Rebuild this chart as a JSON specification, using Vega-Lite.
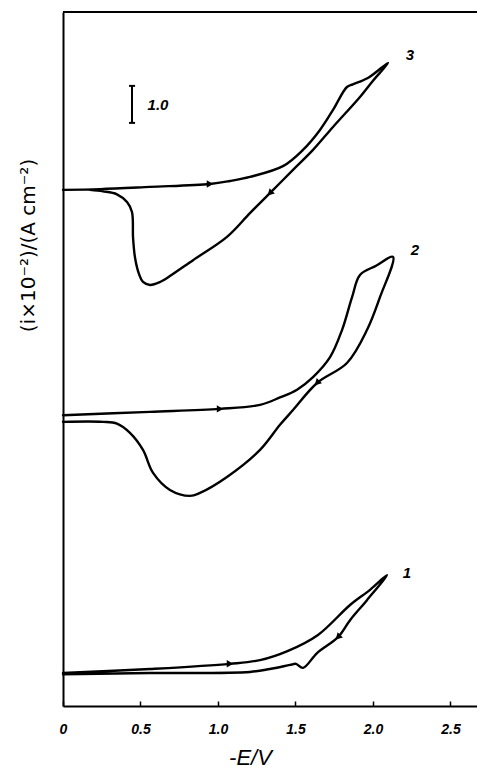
{
  "$schema": "https://vega.github.io/schema/vega-lite/v6.json",
  "width": 414,
  "height": 694,
  "autosize": {"type": "none"},
  "padding": {"left": 63, "top": 12, "right": 0, "bottom": 65},
  "background": "white",
  "config": {"view": {"stroke": null}, "font": "Liberation Sans"},
  "datasets": {
    "curves": [
      {"curve": "3", "seq": 1, "E": 0, "I": 13.95},
      {"curve": "3", "seq": 2, "E": 0.239, "I": 13.97},
      {"curve": "3", "seq": 3, "E": 0.561, "I": 14.03},
      {"curve": "3", "seq": 4, "E": 0.948, "I": 14.11},
      {"curve": "3", "seq": 5, "E": 1.077, "I": 14.19},
      {"curve": "3", "seq": 6, "E": 1.206, "I": 14.3},
      {"curve": "3", "seq": 7, "E": 1.419, "I": 14.59},
      {"curve": "3", "seq": 8, "E": 1.548, "I": 15.03},
      {"curve": "3", "seq": 9, "E": 1.658, "I": 15.57},
      {"curve": "3", "seq": 10, "E": 1.742, "I": 16.11},
      {"curve": "3", "seq": 11, "E": 1.832, "I": 16.73},
      {"curve": "3", "seq": 12, "E": 1.87, "I": 16.8},
      {"curve": "3", "seq": 13, "E": 1.97, "I": 16.98},
      {"curve": "3", "seq": 14, "E": 2.097, "I": 17.38},
      {"curve": "3", "seq": 15, "E": 2.0, "I": 16.9},
      {"curve": "3", "seq": 16, "E": 1.916, "I": 16.46},
      {"curve": "3", "seq": 17, "E": 1.742, "I": 15.65},
      {"curve": "3", "seq": 18, "E": 1.613, "I": 15.03},
      {"curve": "3", "seq": 19, "E": 1.484, "I": 14.49},
      {"curve": "3", "seq": 20, "E": 1.335, "I": 13.86},
      {"curve": "3", "seq": 21, "E": 1.206, "I": 13.32},
      {"curve": "3", "seq": 22, "E": 1.058, "I": 12.68},
      {"curve": "3", "seq": 23, "E": 0.839, "I": 12.05},
      {"curve": "3", "seq": 24, "E": 0.69, "I": 11.62},
      {"curve": "3", "seq": 25, "E": 0.626, "I": 11.46},
      {"curve": "3", "seq": 26, "E": 0.561, "I": 11.38},
      {"curve": "3", "seq": 27, "E": 0.516, "I": 11.46},
      {"curve": "3", "seq": 28, "E": 0.49, "I": 11.68},
      {"curve": "3", "seq": 29, "E": 0.465, "I": 12.11},
      {"curve": "3", "seq": 30, "E": 0.452, "I": 12.65},
      {"curve": "3", "seq": 31, "E": 0.445, "I": 13.35},
      {"curve": "3", "seq": 32, "E": 0.413, "I": 13.62},
      {"curve": "3", "seq": 33, "E": 0.348, "I": 13.83},
      {"curve": "3", "seq": 34, "E": 0.258, "I": 13.91},
      {"curve": "3", "seq": 35, "E": 0.174, "I": 13.95},
      {"curve": "2", "seq": 1, "E": 0, "I": 7.86},
      {"curve": "2", "seq": 2, "E": 0.561, "I": 7.95},
      {"curve": "2", "seq": 3, "E": 1.013, "I": 8.03},
      {"curve": "2", "seq": 4, "E": 1.271, "I": 8.14},
      {"curve": "2", "seq": 5, "E": 1.4, "I": 8.34},
      {"curve": "2", "seq": 6, "E": 1.51, "I": 8.55},
      {"curve": "2", "seq": 7, "E": 1.613, "I": 8.89},
      {"curve": "2", "seq": 8, "E": 1.723, "I": 9.43},
      {"curve": "2", "seq": 9, "E": 1.8, "I": 10.16},
      {"curve": "2", "seq": 10, "E": 1.865, "I": 11.05},
      {"curve": "2", "seq": 11, "E": 1.916, "I": 11.65},
      {"curve": "2", "seq": 12, "E": 2.02, "I": 11.9},
      {"curve": "2", "seq": 13, "E": 2.129, "I": 12.14},
      {"curve": "2", "seq": 14, "E": 2.045, "I": 11.05},
      {"curve": "2", "seq": 15, "E": 1.961, "I": 10.16},
      {"curve": "2", "seq": 16, "E": 1.832, "I": 9.27},
      {"curve": "2", "seq": 17, "E": 1.639, "I": 8.73},
      {"curve": "2", "seq": 18, "E": 1.484, "I": 8.0},
      {"curve": "2", "seq": 19, "E": 1.4, "I": 7.6},
      {"curve": "2", "seq": 20, "E": 1.271, "I": 6.92},
      {"curve": "2", "seq": 21, "E": 1.058, "I": 6.19},
      {"curve": "2", "seq": 22, "E": 0.884, "I": 5.76},
      {"curve": "2", "seq": 23, "E": 0.819, "I": 5.68},
      {"curve": "2", "seq": 24, "E": 0.69, "I": 5.84},
      {"curve": "2", "seq": 25, "E": 0.581, "I": 6.3},
      {"curve": "2", "seq": 26, "E": 0.516, "I": 6.92},
      {"curve": "2", "seq": 27, "E": 0.432, "I": 7.38},
      {"curve": "2", "seq": 28, "E": 0.348, "I": 7.63},
      {"curve": "2", "seq": 29, "E": 0.258, "I": 7.68},
      {"curve": "2", "seq": 30, "E": 0, "I": 7.68},
      {"curve": "1", "seq": 1, "E": 0, "I": 0.89},
      {"curve": "1", "seq": 2, "E": 0.561, "I": 1.0},
      {"curve": "1", "seq": 3, "E": 1.077, "I": 1.14},
      {"curve": "1", "seq": 4, "E": 1.271, "I": 1.24},
      {"curve": "1", "seq": 5, "E": 1.452, "I": 1.49},
      {"curve": "1", "seq": 6, "E": 1.645, "I": 1.92},
      {"curve": "1", "seq": 7, "E": 1.852, "I": 2.73},
      {"curve": "1", "seq": 8, "E": 1.981, "I": 3.14},
      {"curve": "1", "seq": 9, "E": 2.09, "I": 3.54},
      {"curve": "1", "seq": 10, "E": 1.961, "I": 2.86},
      {"curve": "1", "seq": 11, "E": 1.852, "I": 2.32},
      {"curve": "1", "seq": 12, "E": 1.774, "I": 1.86},
      {"curve": "1", "seq": 13, "E": 1.639, "I": 1.43},
      {"curve": "1", "seq": 14, "E": 1.548, "I": 1.03},
      {"curve": "1", "seq": 15, "E": 1.503, "I": 1.14},
      {"curve": "1", "seq": 16, "E": 1.465, "I": 1.11},
      {"curve": "1", "seq": 17, "E": 1.335, "I": 1.0},
      {"curve": "1", "seq": 18, "E": 1.206, "I": 0.92},
      {"curve": "1", "seq": 19, "E": 0.561, "I": 0.89},
      {"curve": "1", "seq": 20, "E": 0, "I": 0.86}
    ],
    "arrowsFwd": [
      {"curve": "3", "E": 0.948, "I": 14.11},
      {"curve": "2", "E": 1.013, "I": 8.03},
      {"curve": "1", "E": 1.077, "I": 1.14}
    ],
    "arrowsRev": [
      {"curve": "3", "E": 1.335, "I": 13.86},
      {"curve": "2", "E": 1.639, "I": 8.73},
      {"curve": "1", "E": 1.774, "I": 1.86}
    ],
    "labels": [
      {"text": "3", "E": 2.239, "I": 17.59},
      {"text": "2", "E": 2.271, "I": 12.32},
      {"text": "1", "E": 2.219, "I": 3.59},
      {"text": "1.0", "E": 0.613, "I": 16.24}
    ],
    "scalebar": [{"E": 0.445, "I0": 15.76, "I1": 16.76}],
    "caps": [
      {"E0": 0.426, "E1": 0.465, "I": 15.76},
      {"E0": 0.426, "E1": 0.465, "I": 16.76}
    ]
  },
  "layer": [
    {
      "data": {"name": "curves"},
      "mark": {"type": "line", "color": "black", "strokeWidth": 2.4, "strokeJoin": "round", "strokeCap": "round", "interpolate": "catmull-rom"},
      "encoding": {
        "x": {
          "field": "E", "type": "quantitative",
          "scale": {"domain": [0, 2.671], "nice": false, "zero": false},
          "axis": {
            "orient": "bottom",
            "values": [0, 0.5, 1, 1.5, 2, 2.5],
            "labelExpr": "datum.value == 0 ? '0' : format(datum.value, '.1f')",
            "grid": false,
            "domainColor": "black", "domainWidth": 2,
            "tickColor": "black", "tickWidth": 1.5, "tickSize": -5,
            "labelFont": "Liberation Sans", "labelFontStyle": "italic", "labelFontWeight": "bold",
            "labelFontSize": 14, "labelColor": "black", "labelPadding": 21,
            "labelFlush": false, "labelOverlap": false,
            "title": "-E/V",
            "titleFont": "Liberation Sans", "titleFontStyle": "italic", "titleFontWeight": "normal",
            "titleFontSize": 22, "titleColor": "black",
            "titleX": 187, "titleY": 51, "titleAnchor": null, "titleAlign": "center", "titleBaseline": "middle"
          }
        },
        "y": {
          "field": "I", "type": "quantitative",
          "scale": {"domain": [0, 18.757], "nice": false, "zero": false},
          "axis": {
            "orient": "left",
            "ticks": false, "labels": false, "grid": false,
            "domainColor": "black", "domainWidth": 2,
            "title": "(i×10⁻²)/(A cm⁻²)",
            "titleFont": "DejaVu Sans", "titleFontStyle": "normal", "titleFontWeight": "normal",
            "titleFontSize": 20, "titleColor": "black",
            "titleAngle": 270, "titleX": -35, "titleY": 233, "titleAlign": "center", "titleBaseline": "middle"
          }
        },
        "detail": {"field": "curve"},
        "order": {"field": "seq", "type": "quantitative"}
      }
    },
    {
      "data": {"values": [{}]},
      "mark": {"type": "rule", "color": "black", "strokeWidth": 2},
      "encoding": {"y": {"datum": 18.757, "type": "quantitative"}}
    },
    {
      "data": {"name": "arrowsFwd"},
      "mark": {"type": "point", "shape": "triangle-right", "filled": true, "color": "black", "opacity": 1, "size": 55},
      "encoding": {
        "x": {"field": "E", "type": "quantitative"},
        "y": {"field": "I", "type": "quantitative"}
      }
    },
    {
      "data": {"name": "arrowsRev"},
      "mark": {"type": "point", "shape": "triangle-right", "filled": true, "color": "black", "opacity": 1, "size": 55, "angle": 135},
      "encoding": {
        "x": {"field": "E", "type": "quantitative"},
        "y": {"field": "I", "type": "quantitative"}
      }
    },
    {
      "data": {"name": "scalebar"},
      "mark": {"type": "rule", "color": "black", "strokeWidth": 2},
      "encoding": {
        "x": {"field": "E", "type": "quantitative"},
        "y": {"field": "I0", "type": "quantitative"},
        "y2": {"field": "I1"}
      }
    },
    {
      "data": {"name": "caps"},
      "mark": {"type": "rule", "color": "black", "strokeWidth": 2},
      "encoding": {
        "x": {"field": "E0", "type": "quantitative"},
        "x2": {"field": "E1"},
        "y": {"field": "I", "type": "quantitative"}
      }
    },
    {
      "data": {"name": "labels"},
      "mark": {"type": "text", "font": "Liberation Sans", "fontStyle": "italic", "fontWeight": "bold", "fontSize": 15, "color": "black", "align": "center", "baseline": "middle"},
      "encoding": {
        "x": {"field": "E", "type": "quantitative"},
        "y": {"field": "I", "type": "quantitative"},
        "text": {"field": "text"}
      }
    }
  ]
}
